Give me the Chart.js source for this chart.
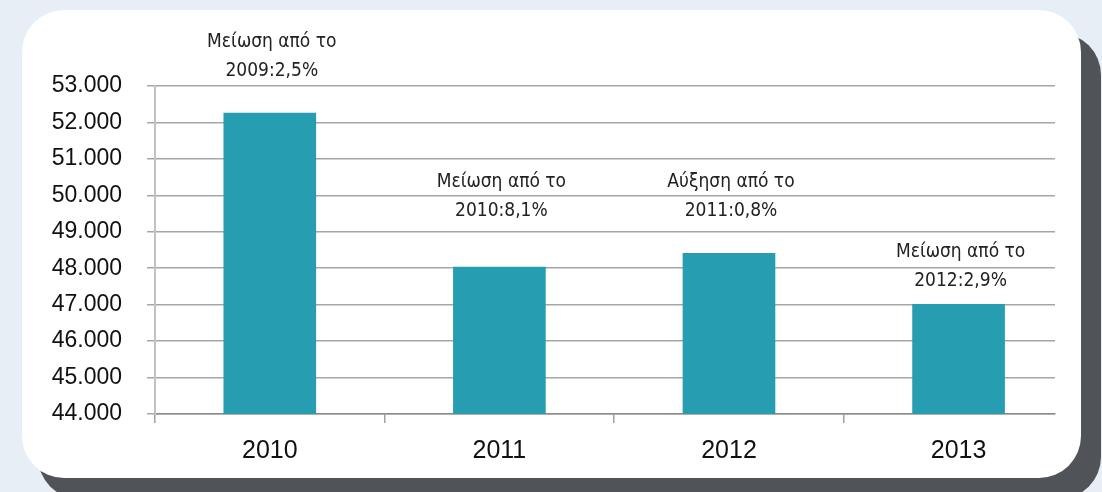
<!DOCTYPE html>
<html>
<head>
<meta charset="utf-8">
<script src="https://cdn.jsdelivr.net/npm/chart.js@4.4.1/dist/chart.umd.min.js"></script>
<style>
  html, body { margin: 0; padding: 0; width: 1102px; height: 492px; overflow: hidden; background: #e7eef5; }
  #shadow { position: absolute; left: 38px; top: 33px; width: 1063px; height: 466px; background: #505459; border-radius: 42px; }
  #card { position: absolute; left: 22px; top: 10px; width: 1059px; height: 468px; background: #fff; border-radius: 42px; }
  #wrap { position: absolute; left: 0; top: 0; width: 1102px; height: 492px; }
</style>
</head>
<body>
<div id="shadow"></div>
<div id="card"></div>
<div id="wrap"><canvas id="chart" width="1102" height="492"></canvas></div>
<script>
const years = ["2010", "2011", "2012", "2013"];
const values = [52260, 48030, 48410, 47010];
// note text above each bar, and the value level where its second line sits
const noteTop = ["Μείωση από το", "Μείωση από το", "Αύξηση από το", "Μείωση από το"];
const noteBottom = ["2009:2,5%", "2010:8,1%", "2011:0,8%", "2012:2,9%"];
const noteLevels = [53410, 49570, 49570, 47650];

const tickFont = { family: "'Liberation Sans', Arial, sans-serif", size: 23 };

function fmt(v) {
  return String(v).replace(/\B(?=(\d{3})+(?!\d))/g, ".");
}

const notesPlugin = {
  id: "notes",
  afterDraw(chart) {
    const { ctx, scales: { x, y } } = chart;
    ctx.save();
    ctx.font = "19px 'DejaVu Sans Condensed', 'DejaVu Sans', sans-serif";
    ctx.fillStyle = "#222";
    ctx.textAlign = "center";
    ctx.textBaseline = "middle";
    years.forEach((_, i) => {
      const px = x.getPixelForValue(i) + 2;
      const py = y.getPixelForValue(noteLevels[i]);
      ctx.fillText(noteTop[i], px, py - 29);
      ctx.fillText(noteBottom[i], px, py);
    });
    ctx.restore();
  }
};

new Chart(document.getElementById("chart"), {
  type: "bar",
  data: {
    datasets: [{
      data: values.map((v, i) => ({ x: i, y: v })),
      backgroundColor: "#279db1",
      borderWidth: 0,
      barThickness: 92
    }]
  },
  options: {
    responsive: false,
    animation: false,
    devicePixelRatio: 1,
    layout: { padding: { top: 86, right: 47, bottom: 0, left: 0 } },
    plugins: { legend: { display: false }, tooltip: { enabled: false } },
    scales: {
      x: {
        type: "linear",
        offset: false,
        min: -0.5,
        max: 3.42, // plot area stops a bit short of the last category edge
        afterBuildTicks: s => {
          s.ticks = [-0.5, 0, 0.5, 1, 1.5, 2, 2.5, 3].map(v => ({ value: v }));
        },
        afterFit: s => { s.height = 78; },
        ticks: {
          autoSkip: false,
          maxRotation: 0,
          padding: 13,
          font: { family: tickFont.family, size: 25 },
          color: "#111",
          callback: v => Number.isInteger(v) ? years[v] : ""
        },
        grid: {
          offset: false,
          drawOnChartArea: false,
          drawTicks: true,
          tickLength: 9,
          lineWidth: 1.5,
          tickColor: c => (c.tick && Number.isInteger(c.tick.value)) ? "rgba(0,0,0,0)" : "#a0a0a0"
        },
        border: { color: "#8c8c8c", width: 1.5 }
      },
      y: {
        min: 44000,
        max: 53000,
        afterFit: s => { s.width = 155; },
        ticks: {
          stepSize: 1000,
          padding: 25,
          font: tickFont,
          color: "#111",
          callback: v => fmt(v)
        },
        grid: { color: "#a6a6a6", lineWidth: 1.5, tickLength: 8 },
        border: { color: "#c2c2c2", width: 2 }
      }
    }
  },
  plugins: [notesPlugin]
});
</script>
</body>
</html>
